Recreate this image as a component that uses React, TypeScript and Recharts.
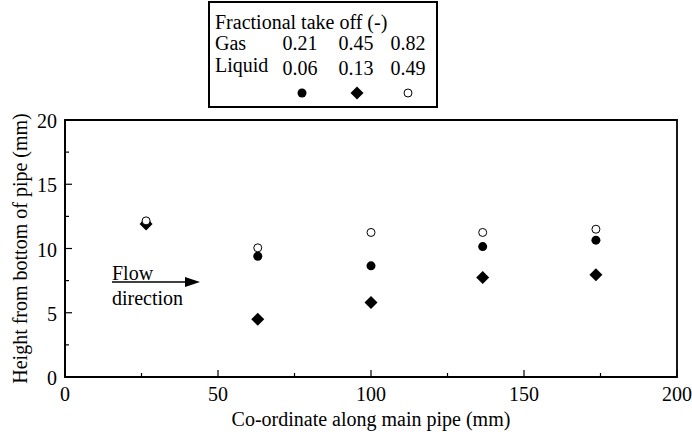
import React from 'react';
import { ScatterChart, Scatter, XAxis, YAxis, ReferenceArea, Label } from 'recharts';

// Data (mm)
const positions = [26.5, 63, 100, 136.5, 173.5];
const seriesA = [12.0, 9.4, 8.65, 10.15, 10.65]; // filled circle: gas 0.21 / liquid 0.06
const seriesB = [11.9, 4.5, 5.8, 7.75, 7.95]; // diamond: gas 0.45 / liquid 0.13
const seriesC = [12.15, 10.05, 11.25, 11.25, 11.5]; // open circle: gas 0.82 / liquid 0.49

const gasTakeOff = ['0.21', '0.45', '0.82'];
const liquidTakeOff = ['0.06', '0.13', '0.49'];

const xTicks = [0, 25, 50, 75, 100, 125, 150, 175, 200];
const xMajor = [0, 50, 100, 150, 200];
const yTicks = [0, 2.5, 5, 7.5, 10, 12.5, 15, 17.5, 20];
const yMajor = [0, 5, 10, 15, 20];

const FONT = "'Liberation Serif', 'Times New Roman', serif";
const TXT: React.CSSProperties = { fontFamily: FONT, fontSize: 20 };

const toRows = (ys: number[]) => positions.map((x, i) => ({ x, y: ys[i] }));
const dataA = toRows(seriesA);
const dataB = toRows(seriesB);
const dataC = toRows(seriesC);

const FilledCircle = (p: any) => <circle cx={p.cx} cy={p.cy} r={4.5} fill="#000" />;
const OpenCircle = (p: any) => <circle cx={p.cx} cy={p.cy} r={4} fill="#fff" stroke="#000" strokeWidth={1} />;
const Diamond = (p: any) => {
  const s = 6.5;
  return <polygon points={`${p.cx},${p.cy - s} ${p.cx + s},${p.cy} ${p.cx},${p.cy + s} ${p.cx - s},${p.cy}`} fill="#000" />;
};

const XTick = (p: any) => {
  const v = p.payload.value;
  const major = xMajor.includes(v);
  return (
    <g>
      <line x1={p.x} x2={p.x} y1={p.y} y2={p.y - (major ? 7 : 4)} stroke="#000" strokeWidth={1.2} />
      {major && (
        <text x={p.x} y={p.y + 24} textAnchor="middle" style={TXT} fill="#000">
          {v}
        </text>
      )}
    </g>
  );
};

const YTick = (p: any) => {
  const v = p.payload.value;
  const major = yMajor.includes(v);
  return (
    <g>
      <line x1={p.x} x2={p.x + (major ? 7 : 4)} y1={p.y} y2={p.y} stroke="#000" strokeWidth={1.2} />
      {major && (
        <text x={p.x - 8} y={p.y + 8} textAnchor="end" style={TXT} fill="#000">
          {v}
        </text>
      )}
    </g>
  );
};

const LegendBox = () => {
  const cols = [300, 356, 408];
  const markerX = [302, 357, 408];
  return (
    <g style={TXT} fill="#000">
      <rect x={209} y={2} width={228} height={105} fill="#fff" stroke="#000" strokeWidth={2} />
      <text x={215} y={29} style={TXT}>Fractional take off (-)</text>
      <text x={215} y={50} style={TXT}>Gas</text>
      <text x={215} y={72} style={TXT}>Liquid</text>
      {gasTakeOff.map((t, i) => (
        <text key={'g' + i} x={cols[i]} y={50} textAnchor="middle" style={TXT}>{t}</text>
      ))}
      {liquidTakeOff.map((t, i) => (
        <text key={'l' + i} x={cols[i]} y={75} textAnchor="middle" style={TXT}>{t}</text>
      ))}
      <FilledCircle cx={markerX[0]} cy={93} />
      <Diamond cx={markerX[1]} cy={93} />
      <OpenCircle cx={markerX[2]} cy={93} />
    </g>
  );
};

const FlowNote = () => (
  <g fill="#000">
    <text x={112} y={280} style={TXT}>Flow</text>
    <text x={112} y={305} style={TXT}>direction</text>
    <line x1={112} x2={187} y1={282} y2={282} stroke="#000" strokeWidth={1.5} />
    <polygon points="185,277 200,282 185,287" fill="#000" />
  </g>
);

export default function App() {
  return (
    <div style={{ position: 'absolute', left: 0, top: 0, width: 692, height: 434, background: '#fff', fontFamily: FONT }}>
      <ScatterChart width={692} height={434} margin={{ top: 120, right: 15, bottom: 0, left: 20 }}>
        <XAxis
          type="number"
          dataKey="x"
          domain={[0, 200]}
          ticks={xTicks}
          interval={0}
          tickSize={0}
          tickMargin={0}
          tick={<XTick />}
          tickLine={false}
          height={57}
          axisLine={{ stroke: '#000', strokeWidth: 1.8 }}
        >
          <Label
            content={(props: any) => {
              const vb = props.viewBox;
              return (
                <text x={vb.x + vb.width / 2} y={426} textAnchor="middle" style={TXT} fill="#000">
                  Co-ordinate along main pipe (mm)
                </text>
              );
            }}
          />
        </XAxis>
        <YAxis
          type="number"
          dataKey="y"
          domain={[0, 20]}
          ticks={yTicks}
          interval={0}
          tickSize={0}
          tickMargin={0}
          tick={<YTick />}
          tickLine={false}
          width={45}
          axisLine={{ stroke: '#000', strokeWidth: 1.8 }}
        >
          <Label
            content={(props: any) => {
              const vb = props.viewBox;
              const cy = vb.y + vb.height / 2;
              return (
                <text
                  transform={`translate(27, ${cy}) rotate(-90)`}
                  textAnchor="middle"
                  style={TXT}
                  fill="#000"
                >
                  Height from bottom of pipe (mm)
                </text>
              );
            }}
          />
        </YAxis>
        <ReferenceArea x1={0} x2={200} y1={0} y2={20} fill="none" stroke="#000" strokeWidth={1.8} ifOverflow="visible" />
        <Scatter data={dataA} shape={FilledCircle} isAnimationActive={false} />
        <Scatter data={dataB} shape={Diamond} isAnimationActive={false} />
        <Scatter data={dataC} shape={OpenCircle} isAnimationActive={false} />
      </ScatterChart>
      <svg width={692} height={434} style={{ position: 'absolute', left: 0, top: 0, pointerEvents: 'none' }}>
        <LegendBox />
        <FlowNote />
      </svg>
    </div>
  );
}
